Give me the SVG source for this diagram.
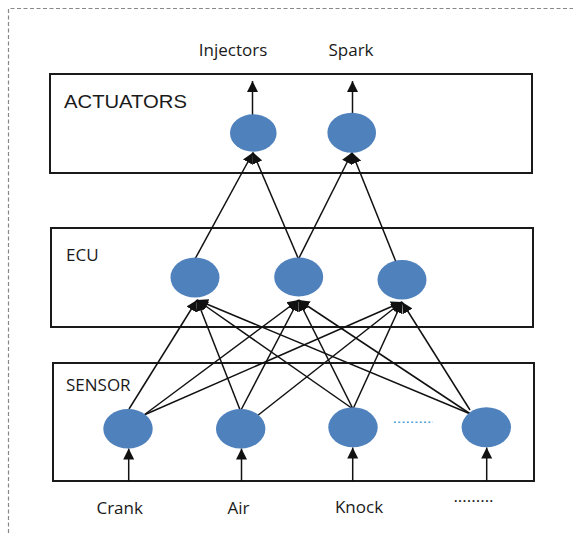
<svg xmlns="http://www.w3.org/2000/svg" width="573" height="536" viewBox="0 0 573 536">
<defs>
<style>
.box{fill:none;stroke:#1a1a1a;stroke-width:2}
.node{fill:#4f81bd}
.c{stroke:#111;stroke-width:1.5;fill:none;marker-end:url(#ah)}
.t{font-family:"Open Sans","Noto Sans",sans-serif;font-size:17px;fill:#1a1a1a}
.ta{font-family:"Liberation Sans",Arial,sans-serif;font-size:19px;fill:#1a1a1a}
</style>
<marker id="ah" markerUnits="userSpaceOnUse" markerWidth="12" markerHeight="12" refX="11" refY="5.5" orient="auto" viewBox="0 0 12 11">
<path d="M0,0 L11,5.5 L0,11 z" fill="#111"/>
</marker>
</defs>
<rect width="573" height="536" fill="#fff"/>
<path d="M8.5,533 L8.5,8.5 L573,8.5" fill="none" stroke="#888" stroke-width="1.2" stroke-dasharray="4,2.5"/>

<g id="actuators-box">
<rect class="box" x="50" y="74" width="482" height="99"/>
<text class="ta" x="64" y="108" textLength="123" lengthAdjust="spacingAndGlyphs">ACTUATORS</text>
</g>
<g id="ecu-box">
<rect class="box" x="51" y="228" width="482" height="99"/>
<text class="t" x="66" y="261">ECU</text>
</g>
<g id="sensor-box">
<rect class="box" x="53" y="363" width="481" height="118"/>
<text class="t" x="66" y="391">SENSOR</text>
</g>

<g id="connectors">
<line class="c" x1="252.5" y1="115" x2="252.5" y2="81"/>
<line class="c" x1="352.5" y1="113" x2="352.5" y2="81"/>
<line class="c" x1="195" y1="259" x2="253" y2="152.5"/>
<line class="c" x1="298.5" y1="259" x2="253" y2="152.5"/>
<line class="c" x1="298.5" y1="259" x2="352" y2="152.5"/>
<line class="c" x1="396" y1="262" x2="352" y2="152.5"/>
<line class="c" x1="129" y1="409" x2="197" y2="300"/>
<line class="c" x1="144" y1="415" x2="298.5" y2="300"/>
<line class="c" x1="144" y1="415" x2="402" y2="302"/>
<line class="c" x1="240.5" y1="411" x2="197" y2="300"/>
<line class="c" x1="240.5" y1="411" x2="298.5" y2="300"/>
<line class="c" x1="257" y1="416" x2="402" y2="302"/>
<line class="c" x1="353" y1="409" x2="197" y2="300"/>
<line class="c" x1="353" y1="409" x2="298.5" y2="300"/>
<line class="c" x1="353" y1="409" x2="402" y2="302"/>
<line class="c" x1="470.5" y1="414" x2="197" y2="300"/>
<line class="c" x1="470.5" y1="414" x2="298.5" y2="300"/>
<line class="c" x1="470" y1="410" x2="402" y2="302"/>
<line class="c" x1="128.7" y1="481" x2="128.7" y2="448.5"/>
<line class="c" x1="241.5" y1="481" x2="241.5" y2="448.5"/>
<line class="c" x1="352.7" y1="481" x2="352.7" y2="447.5"/>
<line class="c" x1="486.7" y1="481" x2="486.7" y2="447.5"/>
<line x1="394" y1="422.3" x2="433" y2="422.3" stroke="#4fa3d9" stroke-width="1.5" stroke-dasharray="2,2.3"/>
</g>

<g id="act1"><ellipse class="node" cx="253.3" cy="133" rx="23.3" ry="18.7"/></g>
<g id="act2"><ellipse class="node" cx="351.7" cy="132.7" rx="24.3" ry="20"/></g>
<g id="ecu1"><ellipse class="node" cx="195" cy="277.5" rx="24.5" ry="20"/></g>
<g id="ecu2"><ellipse class="node" cx="298.7" cy="277" rx="24.5" ry="19.5"/></g>
<g id="ecu3"><ellipse class="node" cx="402" cy="279.7" rx="24.5" ry="19.7"/></g>
<g id="s1"><ellipse class="node" cx="128" cy="428.7" rx="24.7" ry="19.7"/></g>
<g id="s2"><ellipse class="node" cx="240.7" cy="428.7" rx="24.7" ry="19.7"/></g>
<g id="s3"><ellipse class="node" cx="353" cy="427.3" rx="24.7" ry="20"/></g>
<g id="s4"><ellipse class="node" cx="486.3" cy="427.3" rx="24.7" ry="20"/></g>

<g id="labels">
<text class="t" x="233" y="56" text-anchor="middle">Injectors</text>
<text class="t" x="351" y="56" text-anchor="middle">Spark</text>
<text class="t" x="119.7" y="514" text-anchor="middle">Crank</text>
<text class="t" x="238.5" y="514" text-anchor="middle">Air</text>
<text class="t" x="359" y="513" text-anchor="middle">Knock</text>
<text class="t" x="473.5" y="502" text-anchor="middle">.........</text>
</g>
</svg>
